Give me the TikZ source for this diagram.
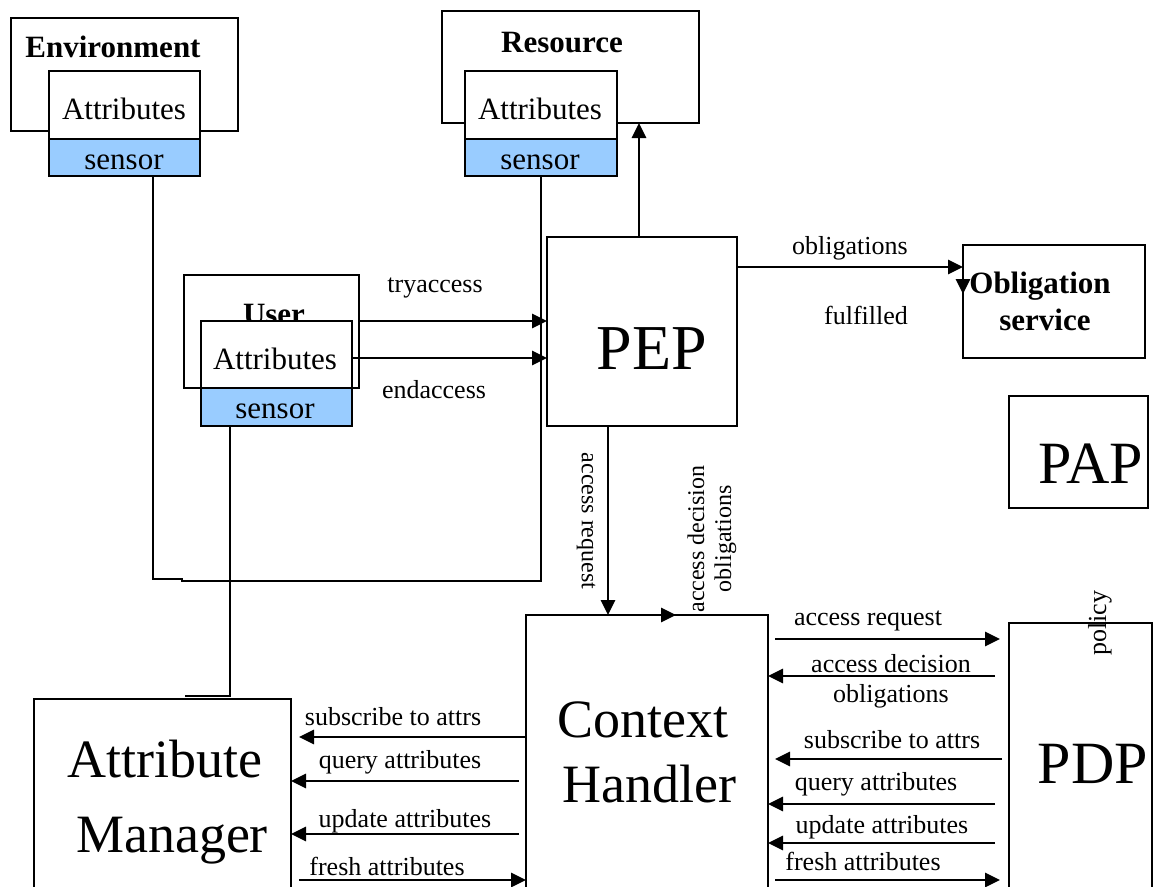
\documentclass[tikz,border=0pt]{standalone}
\usepackage{fontspec}
\setmainfont{Liberation Serif}
\usetikzlibrary{arrows.meta}
\definecolor{sensorblue}{HTML}{99CCFF}

\begin{document}
\begin{tikzpicture}[x=1pt,y=-1pt,
  box/.style={draw=black, line width=1.9pt, fill=white, inner sep=0pt, outer sep=0pt, anchor=north west},
  sensorbox/.style={box, fill=sensorblue},
  wire/.style={draw=black, line width=1.9pt},
  arr/.style={draw=black, line width=2.9pt, -{Triangle[length=15pt,width=14pt]}},
  lbl/.style={inner sep=0pt, anchor=base, font=\fontsize{26}{30}\selectfont},
  vlbl/.style={inner sep=0pt, font=\fontsize{24}{27}\selectfont, align=center},
  ttl/.style={inner sep=0pt, anchor=base, font=\fontsize{31}{37}\selectfont\bfseries},
  attr/.style={inner sep=0pt, anchor=base, font=\fontsize{31}{37}\selectfont},
  big/.style={inner sep=0pt, anchor=base, font=\fontsize{54}{65}\selectfont},
  huge/.style={inner sep=0pt, anchor=base, font=\fontsize{62}{70}\selectfont},
]
\useasboundingbox (0,0) rectangle (1153,886);
\clip (0,0) rectangle (1153,886);
\fill[white] (0,0) rectangle (1153,886);

% ---- Environment with its attributes and sensor
\node[box, minimum width=227pt, minimum height=113pt] (env) at (11,18) {};
\node[ttl] (envname) at (113,57) {Environment};
\node[box, minimum width=151pt, minimum height=68pt] (envattr) at (49,71) {};
\node[attr] (envattrtxt) at (124,119) {Attributes};
\node[sensorbox, minimum width=151pt, minimum height=37pt] (envsensor) at (49,139) {};
\node[attr] (envsensortxt) at (124,169) {sensor};

% ---- Resource
\node[box, minimum width=257pt, minimum height=112pt] (res) at (442,11) {};
\node[ttl] (resname) at (562,52) {Resource};
\node[box, minimum width=152pt, minimum height=68pt] (resattr) at (465,71) {};
\node[attr] (resattrtxt) at (540,119) {Attributes};
\node[sensorbox, minimum width=152pt, minimum height=37pt] (ressensor) at (465,139) {};
\node[attr] (ressensortxt) at (540,169) {sensor};

% ---- User
\node[box, minimum width=175pt, minimum height=113pt] (user) at (184,275) {};
\node[ttl] (username) at (274,324) {User};
\node[box, minimum width=151pt, minimum height=67pt] (userattr) at (201,321) {};
\node[attr] (userattrtxt) at (275,369) {Attributes};
\node[sensorbox, minimum width=151pt, minimum height=38pt] (usersensor) at (201,388) {};
\node[attr] (usersensortxt) at (275,418) {sensor};

% ---- PEP, obligation service, PAP
\node[box, minimum width=190pt, minimum height=189pt] (pep) at (547,237) {};
\node[huge, font=\fontsize{64}{70}\selectfont] (peptxt) at (652,369) {PEP};
\node[box, minimum width=182pt, minimum height=113pt] (obl) at (963,245) {};
\node[ttl] (obltxt1) at (1040,293) {Obligation};
\node[ttl] (obltxt2) at (1045,330) {service};
\node[box, minimum width=139pt, minimum height=112pt] (pap) at (1009,396) {};
\node[huge, font=\fontsize{60}{70}\selectfont] (paptxt) at (1091,483) {PAP};

% ---- Context handler, attribute manager, PDP
\node[box, minimum width=242pt, minimum height=330pt] (ch) at (526,615) {};
\node[big] (chtxt1) at (643,737) {Context};
\node[big] (chtxt2) at (649,802) {Handler};
\node[box, minimum width=257pt, minimum height=250pt] (am) at (34,699) {};
\node[big] (amtxt1) at (165,777) {Attribute};
\node[big] (amtxt2) at (172,852) {Manager};
\node[box, minimum width=143pt, minimum height=320pt] (pdp) at (1009,623) {};
\node[huge, font=\fontsize{60}{70}\selectfont] (pdptxt) at (1093,783) {PDP};
\node[vlbl, font=\fontsize{26}{30}\selectfont, rotate=90] (policy) at (1100,623) {policy};

% ---- sensor wiring
\draw[wire] (153,0 |- envsensor.south) -- (153,579) -- (182,579) -- (182,581) -| (ressensor.south);
\coordinate (amtap) at (185,696);
\draw[wire] (230,0 |- usersensor.south) -- (230,696) -- (amtap);

% ---- user <-> PEP
\draw[arr] (user.east |- userattr.north) -- (pep.west |- userattr.north);
\node[lbl] (trylbl) at (435,292) {tryaccess};
\draw[arr] (userattr.east |- 0,358) -- (pep.west |- 0,358);
\node[lbl] (endlbl) at (434,398) {endaccess};

% ---- PEP -> resource
\draw[arr] (639,0 |- pep.north) -- (639,0 |- res.south);

% ---- PEP <-> obligation service
\draw[arr] (pep.east |- 0,267) -- (obl.west |- 0,267);
\node[lbl] (obllbl) at (850,254) {obligations};
\draw[arr] (obl.west |- 0,276) -- (obl.west |- 0,294);
\node[lbl] (fullbl) at (866,324) {fulfilled};

% ---- PEP <-> context handler
\draw[arr] (608,0 |- pep.south) -- (608,0 |- ch.north);
\node[vlbl, rotate=-90] (arqlbl) at (586,521) {access request};
\draw[arr] (655,0 |- ch.north) -- (676,0 |- ch.north);
\node[vlbl, rotate=90] (adlbl) at (712,539) {access decision\\obligations};

% ---- context handler <-> PDP
\draw[arr, shorten <=7pt, shorten >=9pt] (ch.east |- 0,639) -- (pdp.west |- 0,639);
\node[lbl] (r1) at (868,625) {access request};
\draw[arr, shorten <=14pt] (pdp.west |- 0,676) -- (ch.east |- 0,676);
\node[lbl] (r2a) at (891,672) {access decision};
\node[lbl] (r2b) at (891,702) {obligations};
\draw[arr, shorten <=7pt, shorten >=7pt] (pdp.west |- 0,759) -- (ch.east |- 0,759);
\node[lbl] (r3) at (892,748) {subscribe to attrs};
\draw[arr, shorten <=14pt] (pdp.west |- 0,804) -- (ch.east |- 0,804);
\node[lbl] (r4) at (876,790) {query attributes};
\draw[arr, shorten <=14pt] (pdp.west |- 0,843) -- (ch.east |- 0,843);
\node[lbl] (r5) at (882,833) {update attributes};
\draw[arr, shorten <=7pt, shorten >=9pt] (ch.east |- 0,880) -- (pdp.west |- 0,880);
\node[lbl] (r6) at (863,870) {fresh attributes};

% ---- context handler <-> attribute manager
\draw[arr, shorten >=8pt] (ch.west |- 0,737) -- (am.east |- 0,737);
\node[lbl] (l1) at (393,725) {subscribe to attrs};
\draw[arr, shorten <=7pt] (ch.west |- 0,781) -- (am.east |- 0,781);
\node[lbl] (l2) at (400,768) {query attributes};
\draw[arr, shorten <=7pt] (ch.west |- 0,834) -- (am.east |- 0,834);
\node[lbl] (l3) at (405,827) {update attributes};
\draw[arr, shorten <=8pt] (am.east |- 0,880) -- (ch.west |- 0,880);
\node[lbl] (l4) at (387,875) {fresh attributes};
\end{tikzpicture}
\end{document}
